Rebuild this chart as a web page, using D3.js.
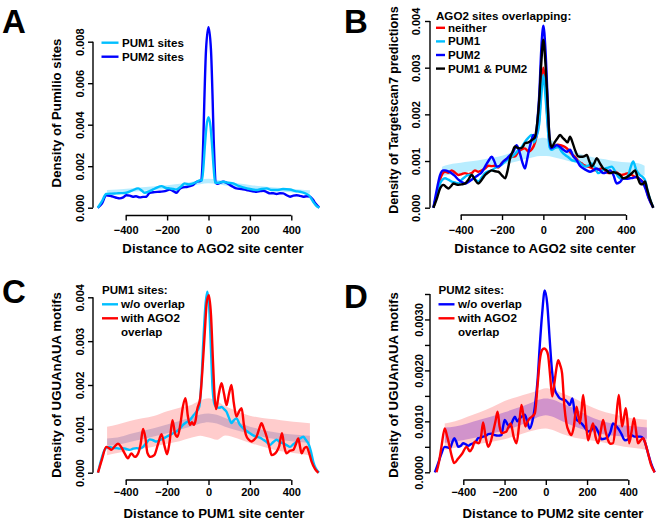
<!DOCTYPE html>
<html><head><meta charset="utf-8">
<script src="https://cdn.jsdelivr.net/npm/d3@7"></script>
<style>
body{margin:0;background:#fff}
text{font-family:"Liberation Sans",Arial,Helvetica,sans-serif;font-weight:bold;fill:#000}
</style>
</head><body>
<svg id="chart" width="660" height="521"></svg>
<script>
// ---------------- DATA ----------------
const xTickValues = [-400, -200, 0, 200, 400];
const xTickLabels = ["\u2212400", "\u2212200", "0", "200", "400"];

// Panel A
const aTickValues = [0, 0.002, 0.004, 0.006, 0.008];
const aTickLabels = ["0.000", "0.002", "0.004", "0.006", "0.008"];
const aPum1 = [[-535,0],[-515,0.0003],[-495,0.00066],[-470,0.00068],[-445,0.00069],[-420,0.0007],[-397,0.00072],[-370,0.00082],[-340,0.00093],[-320,0.0008],[-308,0.00072],[-285,0.0008],[-268,0.00088],[-250,0.00097],[-227,0.00104],[-205,0.00095],[-187,0.00093],[-170,0.0009],[-155,0.00088],[-135,0.001],[-115,0.00117],[-95,0.00112],[-74,0.00117],[-55,0.00125],[-40,0.00133],[-32,0.0013],[-25,0.0019],[-18,0.0029],[-10,0.0039],[0,0.00436],[10,0.0039],[18,0.0029],[25,0.0019],[32,0.0012],[45,0.0012],[71,0.00125],[95,0.0012],[119,0.00117],[145,0.00105],[168,0.00098],[200,0.0009],[232,0.00085],[255,0.0009],[281,0.00093],[305,0.00085],[329,0.00085],[360,0.0009],[394,0.00088],[420,0.0008],[442,0.00077],[465,0.0007],[485,0.0006],[505,0.0003],[520,0.0001],[535,0]];
const aPum2 = [[-535,0],[-515,0.0002],[-494,0.0006],[-475,0.00057],[-461,0.00053],[-445,0.00048],[-429,0.00045],[-412,0.0005],[-397,0.0006],[-380,0.00058],[-365,0.00053],[-350,0.00055],[-332,0.0005],[-316,0.00052],[-300,0.00053],[-284,0.00072],[-260,0.00075],[-235,0.00077],[-210,0.0008],[-187,0.00088],[-170,0.0008],[-155,0.00072],[-140,0.0009],[-123,0.00098],[-105,0.001],[-90,0.00104],[-74,0.0011],[-58,0.00125],[-42,0.00128],[-35,0.0013],[-30,0.0019],[-25,0.0033],[-20,0.0052],[-12,0.0076],[0,0.0087],[12,0.0076],[20,0.0052],[25,0.0033],[30,0.0019],[35,0.0012],[45,0.00115],[55,0.0012],[71,0.00125],[88,0.0012],[103,0.0011],[120,0.001],[135,0.00093],[160,0.0009],[184,0.00085],[208,0.0008],[232,0.00077],[250,0.0008],[265,0.00082],[282,0.00075],[297,0.00069],[313,0.0007],[329,0.00066],[345,0.0007],[361,0.00069],[378,0.0006],[394,0.00053],[410,0.00058],[426,0.0006],[442,0.00057],[458,0.00053],[475,0.00055],[490,0.00053],[505,0.00038],[517,0.0002],[535,0]];
const aBandX  = [-490,-440,-380,-320,-260,-200,-140,-80,-40,0,40,80,140,200,260,320,380,440,490];
const aBandHi = [0.00085,0.00088,0.00093,0.00098,0.00103,0.00108,0.00115,0.00125,0.00135,0.0014,0.00135,0.00127,0.00118,0.0011,0.00103,0.00097,0.00092,0.00088,0.00084];
const aBandLo = [0.0007,0.00073,0.00077,0.00081,0.00086,0.0009,0.00097,0.00106,0.00113,0.00118,0.00114,0.00107,0.00099,0.00092,0.00086,0.00081,0.00076,0.00072,0.00069];

// Panel B
const bTickValues = [0, 0.001, 0.002, 0.003, 0.004];
const bTickLabels = ["0.000", "0.001", "0.002", "0.003", "0.004"];
const bNeither = [[-532,0],[-515,0.0003],[-500,0.0006],[-476,0.00077],[-460,0.00075],[-444,0.0008],[-427,0.00075],[-411,0.0007],[-395,0.00072],[-379,0.00074],[-363,0.00072],[-347,0.00074],[-331,0.0008],[-315,0.00077],[-298,0.0008],[-282,0.00084],[-266,0.0009],[-250,0.00089],[-234,0.0009],[-218,0.00086],[-202,0.00095],[-185,0.00102],[-169,0.00105],[-153,0.00109],[-137,0.0011],[-121,0.0012],[-105,0.00125],[-89,0.00127],[-72,0.0012],[-56,0.00125],[-40,0.0014],[-30,0.0016],[-20,0.0019],[-10,0.0026],[0,0.003],[10,0.0026],[20,0.0019],[30,0.0014],[40,0.0013],[55,0.00132],[70,0.00135],[89,0.00133],[105,0.0013],[121,0.00124],[137,0.00115],[153,0.00109],[169,0.001],[185,0.00095],[202,0.0009],[218,0.00088],[234,0.00085],[250,0.0008],[266,0.00082],[282,0.00084],[298,0.0008],[315,0.00074],[331,0.00076],[347,0.00077],[363,0.00073],[379,0.0007],[395,0.00072],[411,0.00074],[428,0.0007],[444,0.00066],[460,0.00063],[476,0.00058],[490,0.0005],[508,0.00024],[532,0]];
const bPum1 = [[-532,0],[-515,0.0003],[-500,0.00052],[-488,0.0006],[-476,0.00063],[-460,0.0006],[-444,0.00056],[-428,0.00054],[-411,0.00052],[-395,0.0006],[-379,0.00066],[-363,0.0007],[-347,0.0007],[-331,0.00062],[-315,0.00056],[-298,0.00065],[-282,0.00074],[-266,0.00078],[-250,0.0008],[-234,0.00085],[-218,0.00088],[-202,0.00092],[-185,0.00099],[-169,0.00104],[-153,0.00109],[-137,0.00115],[-121,0.00124],[-105,0.0013],[-89,0.00141],[-72,0.0015],[-56,0.00156],[-45,0.0014],[-35,0.0015],[-20,0.0018],[-10,0.0024],[0,0.00285],[10,0.0024],[20,0.0018],[30,0.0013],[40,0.00124],[56,0.00128],[73,0.0013],[89,0.0012],[105,0.00113],[121,0.00108],[137,0.00102],[153,0.001],[169,0.00099],[185,0.00093],[202,0.00088],[218,0.0009],[234,0.00095],[250,0.00085],[266,0.00074],[282,0.00078],[298,0.00084],[315,0.00086],[331,0.00088],[347,0.00078],[363,0.00066],[379,0.00062],[395,0.00063],[411,0.0007],[425,0.0009],[435,0.00099],[450,0.0008],[468,0.0007],[482,0.00065],[492,0.00059],[508,0.0003],[532,0]];
const bPum2 = [[-532,0],[-515,0.0004],[-500,0.0007],[-484,0.0008],[-476,0.0008],[-460,0.00078],[-444,0.00074],[-428,0.00068],[-411,0.0006],[-395,0.00055],[-379,0.00052],[-363,0.00055],[-347,0.0006],[-331,0.00065],[-315,0.0007],[-298,0.00076],[-282,0.00088],[-266,0.001],[-250,0.00109],[-238,0.001],[-226,0.00088],[-210,0.0009],[-194,0.00099],[-177,0.00105],[-161,0.00113],[-145,0.0012],[-129,0.00134],[-113,0.00116],[-100,0.00095],[-89,0.00084],[-80,0.001],[-73,0.00116],[-60,0.0014],[-48,0.00156],[-38,0.0015],[-28,0.0019],[-20,0.0024],[-10,0.0034],[0,0.0039],[10,0.0034],[20,0.0024],[28,0.0016],[36,0.00127],[50,0.0013],[65,0.00134],[81,0.0013],[97,0.00124],[113,0.0012],[129,0.00124],[145,0.0011],[161,0.00102],[177,0.0009],[194,0.00084],[210,0.0008],[226,0.00077],[242,0.0008],[258,0.00084],[274,0.0008],[290,0.00074],[306,0.00076],[323,0.0008],[339,0.0007],[355,0.00052],[371,0.00055],[387,0.00063],[403,0.00062],[419,0.00063],[435,0.00064],[452,0.00066],[468,0.0006],[484,0.00052],[495,0.0004],[510,0.0002],[532,0]];
const bBoth = [[-532,0],[-515,0.0002],[-500,0.00041],[-484,0.00049],[-472,0.00045],[-460,0.00041],[-447,0.00046],[-435,0.00052],[-423,0.0005],[-411,0.00049],[-395,0.0005],[-379,0.00052],[-363,0.0006],[-347,0.0007],[-331,0.0006],[-315,0.00052],[-298,0.0006],[-282,0.0007],[-266,0.00076],[-250,0.0008],[-234,0.00078],[-218,0.00077],[-202,0.0007],[-185,0.00063],[-173,0.0008],[-161,0.00106],[-149,0.0012],[-137,0.00131],[-125,0.00128],[-113,0.00127],[-100,0.0013],[-89,0.00138],[-72,0.0014],[-56,0.00145],[-42,0.0015],[-30,0.0018],[-20,0.0023],[-10,0.0031],[0,0.0036],[10,0.0031],[20,0.0023],[30,0.0015],[40,0.0013],[56,0.00141],[70,0.0015],[81,0.00156],[93,0.0015],[105,0.00145],[117,0.0014],[129,0.00152],[141,0.0014],[153,0.00124],[169,0.0011],[185,0.00109],[197,0.0011],[210,0.00113],[222,0.001],[234,0.00088],[246,0.00095],[258,0.00106],[274,0.00095],[290,0.00084],[306,0.0008],[323,0.00074],[339,0.00076],[355,0.00074],[371,0.0007],[387,0.00063],[403,0.00065],[419,0.0007],[431,0.00075],[444,0.0008],[456,0.00065],[468,0.00052],[480,0.0005],[492,0.00056],[502,0.0004],[515,0.0002],[532,0]];
const bBandX  = [-490,-460,-420,-380,-340,-300,-260,-220,-180,-140,-100,-60,-30,0,30,60,100,140,180,220,260,300,340,380,420,460,490];
const bBandHi = [0.00088,0.00092,0.00095,0.00098,0.001,0.00103,0.00106,0.00109,0.00114,0.0012,0.0013,0.0014,0.00147,0.0015,0.00146,0.0014,0.0013,0.00122,0.00115,0.0011,0.00106,0.00104,0.001,0.00098,0.00097,0.00095,0.0009];
const bBandLo = [0.00068,0.0007,0.00073,0.00076,0.00079,0.00082,0.00086,0.0009,0.00094,0.00098,0.00103,0.00107,0.0011,0.00111,0.0011,0.00107,0.00103,0.00098,0.00093,0.00089,0.00085,0.00081,0.00078,0.00075,0.00073,0.00071,0.00069];

// Panel C
const cTickValues = [0, 0.001, 0.002, 0.003, 0.004];
const cTickLabels = ["0.000", "0.001", "0.002", "0.003", "0.004"];
const cNoOverlap = [[-534,0],[-518,0.0003],[-502,0.00052],[-490,0.00058],[-477,0.00059],[-461,0.00056],[-445,0.00056],[-429,0.00055],[-413,0.00056],[-397,0.00054],[-381,0.00052],[-364,0.00055],[-348,0.00056],[-332,0.00055],[-316,0.00059],[-300,0.00068],[-284,0.00076],[-268,0.00074],[-252,0.00071],[-236,0.00074],[-219,0.00078],[-203,0.00082],[-187,0.00086],[-171,0.0009],[-155,0.00094],[-139,0.001],[-123,0.00109],[-107,0.00115],[-90,0.0012],[-74,0.0013],[-58,0.00139],[-45,0.0015],[-34,0.0021],[-25,0.003],[-15,0.0038],[-6,0.00413],[3,0.0038],[12,0.0028],[20,0.0019],[30,0.00155],[40,0.0015],[52,0.00148],[63,0.0015],[75,0.00145],[87,0.00139],[99,0.00125],[111,0.00113],[123,0.0012],[135,0.00124],[151,0.0011],[168,0.00101],[184,0.00095],[200,0.0009],[216,0.00085],[232,0.00082],[248,0.0008],[265,0.00075],[281,0.0007],[297,0.00063],[313,0.0007],[329,0.00075],[345,0.0007],[361,0.00067],[377,0.00063],[394,0.00059],[410,0.00065],[426,0.00071],[442,0.00078],[458,0.00082],[470,0.00075],[482,0.00067],[494,0.0005],[506,0.00025],[518,0.0001],[534,0]];
const cWithAgo2 = [[-534,0],[-515,0.0003],[-494,0.00059],[-481,0.00056],[-469,0.00052],[-453,0.0006],[-437,0.00066],[-421,0.00058],[-405,0.00044],[-389,0.00033],[-373,0.00044],[-356,0.00036],[-340,0.00044],[-328,0.00065],[-316,0.001],[-305,0.0008],[-295,0.00045],[-280,0.00036],[-262,0.0004],[-244,0.00065],[-227,0.00088],[-212,0.0006],[-200,0.00042],[-188,0.0007],[-174,0.0012],[-162,0.0009],[-150,0.00082],[-136,0.0011],[-124,0.0015],[-111,0.0017],[-100,0.0013],[-90,0.00109],[-80,0.00115],[-71,0.00109],[-62,0.0012],[-55,0.00143],[-40,0.0017],[-30,0.0023],[-18,0.0032],[-8,0.0039],[2,0.00405],[12,0.0036],[22,0.0025],[30,0.0017],[37,0.00145],[50,0.0018],[63,0.00204],[75,0.0018],[87,0.00154],[99,0.0018],[111,0.002],[122,0.0016],[135,0.00128],[148,0.0014],[160,0.00147],[171,0.0011],[181,0.00086],[195,0.00075],[208,0.00071],[220,0.00075],[232,0.00082],[245,0.001],[256,0.00113],[268,0.001],[281,0.00082],[293,0.0006],[305,0.0004],[317,0.00042],[329,0.00048],[341,0.0006],[355,0.0009],[366,0.0006],[377,0.00044],[393,0.0005],[410,0.00052],[422,0.00065],[434,0.00078],[442,0.0006],[450,0.00044],[462,0.00055],[474,0.00059],[486,0.00045],[498,0.00025],[515,0.00008],[531,0]];
const cBandX = [-490,-440,-380,-320,-260,-200,-140,-80,-40,0,40,80,140,200,260,320,380,440,490];
const cOuterHi = [0.00105,0.0011,0.00118,0.00124,0.0013,0.0014,0.00148,0.00155,0.00165,0.0017,0.00163,0.00152,0.0014,0.0013,0.00125,0.00122,0.00118,0.00115,0.00113];
const cOuterLo = [0.0004,0.00045,0.0005,0.00055,0.0006,0.00066,0.00072,0.0008,0.00084,0.0008,0.00075,0.00085,0.00078,0.00068,0.0006,0.00052,0.00047,0.00043,0.0004];
const cInnerHi = [0.00078,0.0008,0.00088,0.00095,0.00102,0.0011,0.00118,0.00127,0.00133,0.00135,0.00132,0.00125,0.00115,0.00105,0.00098,0.00092,0.00088,0.00086,0.00084];
const cInnerLo = [0.00062,0.00064,0.0007,0.00076,0.00083,0.0009,0.00098,0.00106,0.00112,0.00115,0.00112,0.00105,0.00096,0.00088,0.00082,0.00077,0.00073,0.0007,0.00068];

// Panel D
const dTickValues = [0, 0.0005, 0.001, 0.0015, 0.002, 0.0025, 0.003, 0.0035];
const dTickLabels = ["0.0000", "", "0.0010", "", "0.0020", "", "0.0030", ""];
const dNoOverlap = [[-538,0],[-520,0.0002],[-506,0.00037],[-490,0.0005],[-477,0.00049],[-465,0.00047],[-454,0.00058],[-444,0.00067],[-434,0.0006],[-425,0.0005],[-412,0.00052],[-401,0.00057],[-388,0.00055],[-376,0.00052],[-364,0.00055],[-352,0.00057],[-340,0.0006],[-328,0.00067],[-316,0.00068],[-304,0.0007],[-292,0.00071],[-279,0.00075],[-263,0.00076],[-247,0.00073],[-231,0.00072],[-215,0.00073],[-207,0.0009],[-199,0.00103],[-187,0.00095],[-174,0.0009],[-162,0.001],[-150,0.00109],[-138,0.001],[-126,0.00106],[-114,0.0011],[-102,0.00113],[-90,0.001],[-78,0.00086],[-65,0.001],[-53,0.00129],[-40,0.0018],[-29,0.0025],[-18,0.0031],[-5,0.00357],[7,0.0033],[19,0.0026],[30,0.002],[44,0.00162],[56,0.00152],[68,0.00145],[80,0.00143],[92,0.00142],[104,0.00138],[116,0.00132],[129,0.00145],[139,0.0012],[149,0.00103],[161,0.001],[173,0.00096],[189,0.00088],[205,0.0008],[221,0.00083],[237,0.0009],[253,0.0008],[270,0.00065],[286,0.00066],[302,0.0007],[314,0.0008],[326,0.00096],[338,0.00092],[351,0.00086],[367,0.00075],[383,0.00063],[399,0.00065],[415,0.00073],[431,0.0007],[447,0.0007],[460,0.0007],[472,0.00067],[484,0.00055],[496,0.00037],[510,0.00018],[528,0]];
const dWithAgo2 = [[-530,0],[-518,0.0002],[-506,0.0005],[-490,0.00086],[-478,0.0007],[-470,0.00057],[-458,0.00035],[-444,0.00018],[-425,0.00027],[-405,0.00037],[-384,0.0005],[-368,0.00041],[-356,0.00048],[-344,0.0006],[-325,0.00057],[-314,0.0007],[-304,0.00098],[-292,0.0007],[-279,0.0005],[-267,0.0006],[-255,0.0008],[-244,0.001],[-234,0.00119],[-224,0.0009],[-215,0.00077],[-203,0.00078],[-191,0.0008],[-180,0.0009],[-170,0.00096],[-156,0.0007],[-142,0.00057],[-130,0.0009],[-118,0.00132],[-108,0.0011],[-99,0.0009],[-88,0.001],[-78,0.00106],[-65,0.0011],[-53,0.00116],[-40,0.0017],[-29,0.0022],[-18,0.0024],[-8,0.00243],[2,0.0024],[11,0.0023],[21,0.0019],[31,0.00149],[40,0.0017],[50,0.002],[60,0.0022],[70,0.0021],[79,0.00194],[90,0.0013],[100,0.00096],[112,0.0008],[124,0.00073],[136,0.0009],[149,0.00129],[158,0.0011],[165,0.00096],[173,0.0012],[181,0.00152],[192,0.0011],[205,0.00063],[217,0.0008],[229,0.00096],[241,0.0007],[254,0.00057],[266,0.0008],[278,0.00103],[290,0.0008],[302,0.00063],[314,0.00056],[326,0.00057],[340,0.001],[354,0.00152],[362,0.0012],[370,0.0009],[380,0.0011],[388,0.00126],[396,0.001],[404,0.00057],[416,0.0008],[428,0.00106],[438,0.0008],[447,0.00057],[460,0.00063],[472,0.00067],[484,0.00055],[496,0.00037],[510,0.00015],[528,0]];
const dBandX = [-490,-440,-380,-320,-260,-200,-140,-80,-40,0,40,80,140,200,260,320,380,440,490];
const dOuterHi = [0.00096,0.001,0.00109,0.00118,0.00128,0.0014,0.00148,0.00155,0.0016,0.00165,0.00162,0.00155,0.00145,0.00132,0.00122,0.00115,0.00109,0.00105,0.00103];
const dOuterLo = [0.00044,0.00048,0.00052,0.00056,0.0006,0.00065,0.00072,0.0008,0.00084,0.00086,0.00082,0.00075,0.00068,0.00064,0.0006,0.00055,0.0005,0.00047,0.00044];
const dInnerHi = [0.00088,0.0009,0.00096,0.00103,0.0011,0.00118,0.00126,0.00135,0.00142,0.00145,0.00142,0.00135,0.00125,0.00112,0.00102,0.00096,0.00092,0.0009,0.00088];
const dInnerLo = [0.00058,0.0006,0.00065,0.0007,0.00076,0.00082,0.0009,0.001,0.00108,0.00112,0.00108,0.001,0.0009,0.00082,0.00076,0.00072,0.0007,0.00068,0.00066];

// ---------------- COLORS ----------------
const C_LIGHT = "#00bfff", C_BLUE = "#0000ff", C_RED = "#ff0000", C_BLACK = "#000000";

// ---------------- LAYOUT ----------------
const zipBand = (xs, hi, lo) => xs.map((x, i) => ({x, hi: hi[i], lo: lo[i]}));

const panels = [
  { letter: "A", letterXY: [2, 33], xr: [125.7, 291.3], yAxisX: 93, yr: [207.7, 41.7], yMax: 0.008, xAxisY: 215.5,
    yTicks: aTickValues, yLabels: aTickLabels, yLabelX: 84, xLabelY: 234,
    yTitle: "Density of Pumilio sites", yTitleX: 61, yTitleY: 113, yTitleSize: 13.2,
    xTitle: "Distance to AGO2 site center", xTitleX: 213, xTitleY: 253,
    bands: [{data: zipBand(aBandX, aBandHi, aBandLo), fill: "rgba(0,191,255,0.28)"}],
    lines: [{data: aPum2, color: C_BLUE}, {data: aPum1, color: C_LIGHT}],
    legend: {x: 101.5, title: null, rows: [{label: "PUM1 sites", color: C_LIGHT, y: 42.7}, {label: "PUM2 sites", color: C_BLUE, y: 56.7}], lineLen: 17, textGap: 3.5}
  },
  { letter: "B", letterXY: [344, 33], xr: [460.7, 626], yAxisX: 430, yr: [207.7, 21], yMax: 0.004, xAxisY: 215,
    yTicks: bTickValues, yLabels: bTickLabels, yLabelX: 419.5, xLabelY: 234,
    yTitle: "Density of Targetscan7 predictions", yTitleX: 397.5, yTitleY: 110, yTitleSize: 12.5,
    xTitle: "Distance to AGO2 site center", xTitleX: 545, xTitleY: 253,
    bands: [{data: zipBand(bBandX, bBandHi, bBandLo), fill: "rgba(0,191,255,0.28)"}],
    lines: [{data: bNeither, color: C_RED}, {data: bPum1, color: C_LIGHT}, {data: bPum2, color: C_BLUE}, {data: bBoth, color: C_BLACK}],
    legend: {x: 436, title: "AGO2 sites overlapping:", titleY: 15.5, rows: [{label: "neither", color: C_RED, y: 27.8}, {label: "PUM1", color: C_LIGHT, y: 41.4}, {label: "PUM2", color: C_BLUE, y: 55}, {label: "PUM1 & PUM2", color: C_BLACK, y: 68.6}], lineLen: 9, textGap: 3}
  },
  { letter: "C", letterXY: [2, 303], xr: [125.7, 291.3], yAxisX: 93, yr: [472.7, 297.3], yMax: 0.004, xAxisY: 480,
    yTicks: cTickValues, yLabels: cTickLabels, yLabelX: 84, xLabelY: 496,
    yTitle: "Density of UGUAnAUA motifs", yTitleX: 61, yTitleY: 385, yTitleSize: 13.2,
    xTitle: "Distance to PUM1 site center", xTitleX: 214, xTitleY: 518,
    bands: [{data: zipBand(cBandX, cOuterHi, cOuterLo), fill: "rgba(255,0,0,0.2)"}, {data: zipBand(cBandX, cInnerHi, cInnerLo), fill: "rgba(120,100,170,0.3)"}],
    lines: [{data: cNoOverlap, color: C_LIGHT}, {data: cWithAgo2, color: C_RED}],
    legend: {x: 102, title: "PUM1 sites:", titleY: 290, rows: [{label: "w/o overlap", color: C_LIGHT, y: 304.3}, {label: "with AGO2", color: C_RED, y: 318.3}, {label: "overlap", color: null, y: 332.3}], lineLen: 16, textGap: 3}
  },
  { letter: "D", letterXY: [344, 308], xr: [463.3, 628.3], yAxisX: 430, yr: [472.3, 294], yMax: 0.0035, xAxisY: 480,
    yTicks: dTickValues, yLabels: dTickLabels, yLabelX: 422.5, xLabelY: 496,
    yTitle: "Density of UGUAnAUA motifs", yTitleX: 398, yTitleY: 385, yTitleSize: 13.2,
    xTitle: "Distance to PUM2 site center", xTitleX: 553, xTitleY: 518,
    bands: [{data: zipBand(dBandX, dOuterHi, dOuterLo), fill: "rgba(255,0,0,0.2)"}, {data: zipBand(dBandX, dInnerHi, dInnerLo), fill: "rgba(90,0,200,0.28)"}],
    lines: [{data: dNoOverlap, color: C_BLUE}, {data: dWithAgo2, color: C_RED}],
    legend: {x: 438.5, title: "PUM2 sites:", titleY: 290, rows: [{label: "w/o overlap", color: C_BLUE, y: 304.3}, {label: "with AGO2", color: C_RED, y: 318.3}, {label: "overlap", color: null, y: 332.3}], lineLen: 16, textGap: 3.5}
  }
];

// ---------------- DRAW ----------------
const svg = d3.select("#chart");
svg.append("rect").attr("width", 660).attr("height", 521).attr("fill", "#fff");

panels.forEach(p => {
  const g = svg.append("g");
  const x = d3.scaleLinear().domain([-400, 400]).range(p.xr);
  const y = d3.scaleLinear().domain([0, p.yMax]).range(p.yr);

  // bands
  p.bands.forEach(b => {
    g.append("path").datum(b.data)
      .attr("fill", b.fill).attr("stroke", "none")
      .attr("d", d3.area().x(d => x(d.x)).y0(d => y(d.lo)).y1(d => y(d.hi)).curve(d3.curveMonotoneX));
  });

  // lines
  const line = d3.line().x(d => x(d[0])).y(d => y(d[1])).curve(d3.curveMonotoneX);
  p.lines.forEach(l => {
    g.append("path").datum(l.data)
      .attr("fill", "none").attr("stroke", l.color).attr("stroke-width", 2.4)
      .attr("stroke-linejoin", "round").attr("d", line);
  });

  // x axis
  const xa = g.append("g").attr("transform", `translate(0,${p.xAxisY})`)
    .call(d3.axisBottom(x).tickValues(xTickValues).tickFormat((d, i) => xTickLabels[i]).tickSize(5).tickSizeOuter(0));
  xa.select(".domain").remove();
  xa.append("line").attr("x1", x(xTickValues[0])).attr("x2", x(xTickValues[xTickValues.length - 1]))
    .attr("stroke", "#000").attr("stroke-width", 1.4);
  xa.selectAll(".tick line").attr("stroke", "#000").attr("stroke-width", 1.4);
  xa.selectAll(".tick text").attr("y", 0).attr("dy", 0).attr("transform", `translate(0,${p.xLabelY - p.xAxisY})`)
    .style("font-size", "11px").style("font-family", "'Liberation Sans',Arial,sans-serif").style("font-weight", "bold").attr("fill", "#000");

  // y axis
  const ya = g.append("g").attr("transform", `translate(${p.yAxisX},0)`)
    .call(d3.axisLeft(y).tickValues(p.yTicks).tickFormat((d, i) => p.yLabels[i]).tickSize(5).tickSizeOuter(0));
  ya.select(".domain").remove();
  ya.append("line").attr("y1", y(p.yTicks[0])).attr("y2", y(p.yTicks[p.yTicks.length - 1]))
    .attr("stroke", "#000").attr("stroke-width", 1.4);
  ya.selectAll(".tick line").attr("stroke", "#000").attr("stroke-width", 1.4);
  ya.selectAll(".tick text").attr("x", 0).attr("dy", 0).attr("text-anchor", "middle")
    .attr("transform", `translate(${p.yLabelX - p.yAxisX},0) rotate(-90)`)
    .style("font-size", "11px").style("font-family", "'Liberation Sans',Arial,sans-serif").style("font-weight", "bold").attr("fill", "#000");

  // titles
  g.append("text").attr("transform", `translate(${p.yTitleX},${p.yTitleY}) rotate(-90)`)
    .attr("text-anchor", "middle").style("font-size", p.yTitleSize + "px").text(p.yTitle);
  g.append("text").attr("x", p.xTitleX).attr("y", p.xTitleY)
    .attr("text-anchor", "middle").style("font-size", "13.2px").text(p.xTitle);

  // panel letter
  g.append("text").attr("x", p.letterXY[0]).attr("y", p.letterXY[1]).style("font-size", "33px").text(p.letter);

  // legend
  const L = p.legend;
  if (L.title) g.append("text").attr("x", L.x).attr("y", L.titleY + 4).style("font-size", "11.6px").text(L.title);
  L.rows.forEach(r => {
    if (r.color) g.append("line").attr("x1", L.x).attr("x2", L.x + L.lineLen).attr("y1", r.y).attr("y2", r.y)
      .attr("stroke", r.color).attr("stroke-width", 2.4);
    g.append("text").attr("x", L.x + L.lineLen + L.textGap).attr("y", r.y + 4).style("font-size", "11.6px").text(r.label);
  });
});
</script>
</body></html>
